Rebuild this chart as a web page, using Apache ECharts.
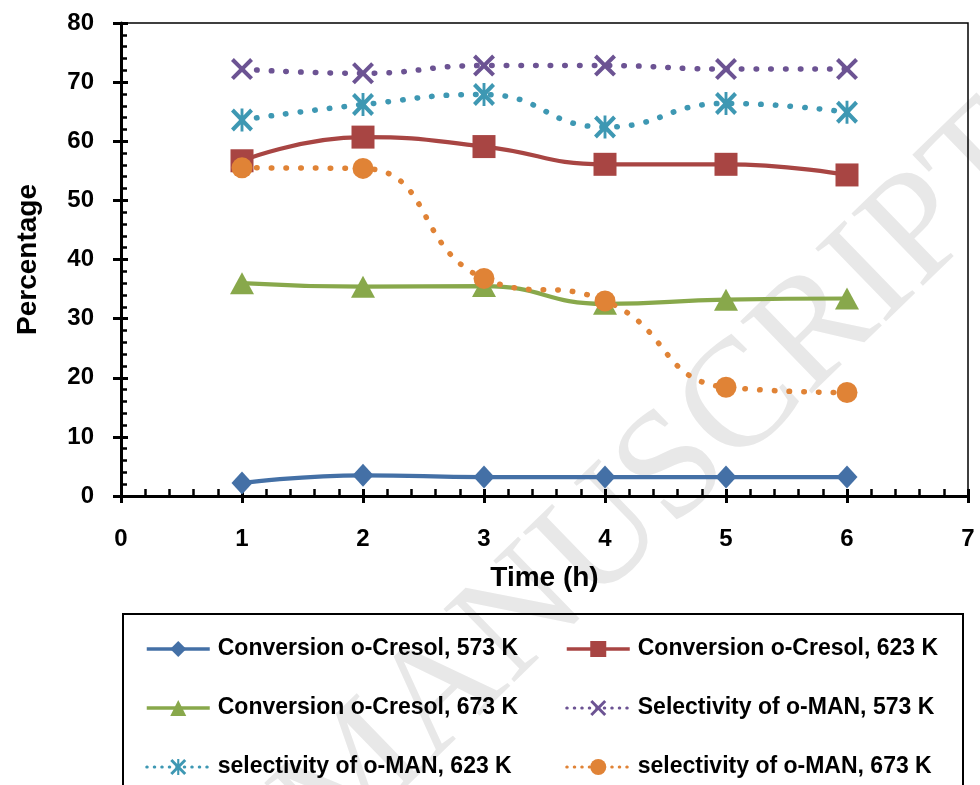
<!DOCTYPE html>
<html><head><meta charset="utf-8">
<script src="https://cdn.jsdelivr.net/npm/echarts@6/dist/echarts.min.js"></script>
<style>html,body{margin:0;padding:0;background:#fff}#c{width:980px;height:785px}</style>
</head><body><div id="c"></div>
<script>
var times = [1, 2, 3, 4, 5, 6];
var conv573 = [2.2, 3.5, 3.2, 3.2, 3.2, 3.2];
var conv623 = [56.7, 60.7, 59.1, 56.1, 56.1, 54.3];
var conv673 = [36.0, 35.4, 35.5, 32.5, 33.2, 33.4];
var sel573 = [72.2, 71.5, 72.8, 72.8, 72.2, 72.2];
var sel623 = [63.6, 66.2, 67.9, 62.4, 66.4, 64.9];
var sel673 = [55.5, 55.4, 36.8, 33.0, 18.4, 17.5];
var seriesNames = ['Conversion o-Cresol, 573 K','Conversion o-Cresol, 623 K','Conversion o-Cresol, 673 K','Selectivity of o-MAN, 573 K','selectivity of o-MAN, 623 K','selectivity of o-MAN, 673 K'];
var xTicks = [0,1,2,3,4,5,6,7];
var yTicks = [0,10,20,30,40,50,60,70,80];

var FONT = '"Liberation Sans", Arial, sans-serif';
var XPATH = 'path://M0,1.3L1.3,0L5,3.7L8.7,0L10,1.3L6.3,5L10,8.7L8.7,10L5,6.3L1.3,10L0,8.7L3.7,5Z';
var STARPATH = 'path://M0,1.3L1.3,0L5,3.7L8.7,0L10,1.3L6.3,5L10,8.7L8.7,10L5,6.3L1.3,10L0,8.7L3.7,5Z M4.35,0L5.65,0L5.65,10L4.35,10Z';

function pairs(v){ return times.map(function(t,i){ return [t, v[i]]; }); }

var defs = [
  {v: conv573, color:'#4470A6', symbol:'diamond', size:[21,23], dotted:false},
  {v: conv623, color:'#A84543', symbol:'rect', size:[23,23], dotted:false},
  {v: conv673, color:'#88A84B', symbol:'triangle', size:[24,22], dotted:false},
  {v: sel573, color:'#6C5393', symbol:XPATH, size:[22,22], dotted:true},
  {v: sel623, color:'#3E98B3', symbol:STARPATH, size:[22,23], dotted:true},
  {v: sel673, color:'#E08336', symbol:'circle', size:[21,21], dotted:true}
];

var series = defs.map(function(d, i){
  return {
    name: seriesNames[i], type:'line', xAxisIndex:0, yAxisIndex:0,
    data: pairs(d.v), smooth: 0.5,
    symbol: d.symbol, symbolSize: d.size,
    itemStyle:{color:d.color},
    lineStyle: d.dotted ? {color:d.color, width:5.5, type:[0.5,14.2], cap:'round'} : {color:d.color, width:4.2},
    z: 3 + i
  };
});

function legendItem(i){
  var d = defs[i];
  var it = {name: seriesNames[i]};
  if (d.dotted) it.lineStyle = {type:[0.5,7], width:3, cap:'round', color:d.color};
  else it.lineStyle = {width:3.5, color:d.color};
  return it;
}

var axisLabelStyle = {fontSize:24, fontWeight:'bold', color:'#000', fontFamily:FONT};
var legendText = {fontSize:23, fontWeight:'bold', color:'#000', fontFamily:FONT, lineHeight:24, padding:[0,0,0,3]};

var option = {
  animation:false,
  backgroundColor:'#fff',
  grid:[
    {left:121, right:12, top:23, bottom:289, show:true, borderColor:'#000', borderWidth:1.5, backgroundColor:'transparent'},
    {left:121, right:12, top:23, bottom:289, show:false}
  ],
  xAxis:[
    {type:'value', gridIndex:0, min:0, max:7, interval:1, position:'bottom',
     axisLine:{show:true, onZero:false, lineStyle:{color:'#000', width:3}},
     axisTick:{show:true, inside:true, length:7, lineStyle:{color:'#000', width:3}},
     minorTick:{show:true, splitNumber:5, length:7, lineStyle:{color:'#000', width:2.5}},
     splitLine:{show:false},
     axisLabel: Object.assign({margin:31, formatter:function(v){return xTicks.indexOf(v)>=0?String(v):'';}}, axisLabelStyle),
     name:'Time (h)', nameLocation:'middle', nameGap:68,
     nameTextStyle:{fontSize:28, fontWeight:'bold', color:'#000', fontFamily:FONT}
    },
    {type:'value', gridIndex:1, min:0, max:7, interval:1, position:'bottom',
     axisLine:{show:false}, axisTick:{show:true, inside:false, length:7, lineStyle:{color:'#000', width:3}},
     axisLabel:{show:false}, splitLine:{show:false}}
  ],
  yAxis:[
    {type:'value', gridIndex:0, min:0, max:80, interval:10,
     axisLine:{show:true, onZero:false, lineStyle:{color:'#000', width:3}},
     axisTick:{show:true, inside:true, length:7, lineStyle:{color:'#000', width:3}},
     minorTick:{show:true, splitNumber:5, length:6, lineStyle:{color:'#000', width:2.5}},
     splitLine:{show:false},
     axisLabel: Object.assign({margin:27, formatter:function(v){return yTicks.indexOf(v)>=0?String(v):'';}}, axisLabelStyle),
     name:'Percentage', nameLocation:'middle', nameGap:79, nameRotate:90,
     nameTextStyle:{fontSize:28, fontWeight:'bold', color:'#000', fontFamily:FONT}
    },
    {type:'value', gridIndex:1, min:0, max:80, interval:10,
     axisLine:{show:false}, axisTick:{show:true, inside:false, length:8, lineStyle:{color:'#000', width:3}},
     axisLabel:{show:false}, splitLine:{show:false}}
  ],
  legend:[
    {orient:'vertical', left:145, top:637, padding:0, itemWidth:63, itemHeight:20, itemGap:35,
     data:[legendItem(0), legendItem(2), legendItem(4)], textStyle:legendText},
    {orient:'vertical', left:565, top:637, padding:0, itemWidth:63, itemHeight:20, itemGap:35,
     data:[legendItem(1), legendItem(3), legendItem(5)], textStyle:legendText}
  ],
  graphic:[
    {type:'text', x:662, y:482, rotation:0.77, z:-10, silent:true,
     style:{text:'MANUSCRIPT', font:'155px "Liberation Serif", "Times New Roman", serif', fill:'#e8e8e8', align:'center', verticalAlign:'middle'}},
    {type:'rect', shape:{x:123, y:614, width:840, height:190}, z:-5, silent:true,
     style:{fill:'none', stroke:'#000', lineWidth:2}}
  ],
  series: series
};
echarts.init(document.getElementById('c')).setOption(option);
</script></body></html>
